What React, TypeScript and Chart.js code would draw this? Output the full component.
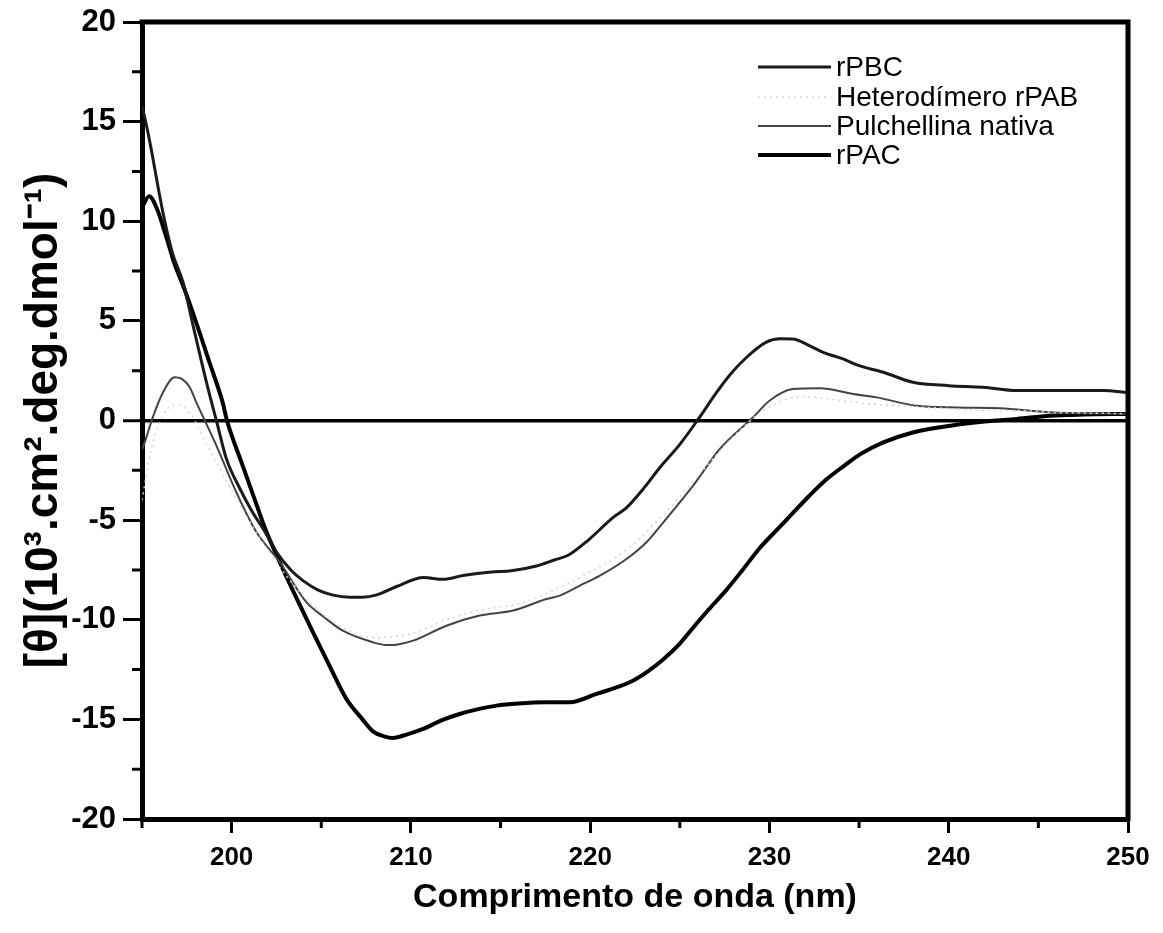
import React, { useEffect, useRef } from "react";
import { Chart, registerables } from "chart.js";

Chart.register(...registerables);

// ---- Data ----
const rpbcX = [195.0, 195.3, 195.6, 195.9, 196.2, 196.7, 197.3, 197.84, 198.6, 199.15, 199.7, 200.45, 201.1, 201.8, 202.5, 203.3, 204.0, 204.8, 205.6, 206.6, 207.3, 208.1, 209.2, 210.7, 211.8, 212.9, 214.5, 215.6, 217.0, 218.0, 218.8, 219.9, 221.3, 222.0, 222.9, 223.9, 225.0, 226.1, 227.05, 227.8, 228.7, 229.8, 230.6, 231.3, 232.25, 233.0, 234.1, 235.0, 236.35, 238.0, 240.0, 241.9, 243.8, 246.0, 248.6, 250.0];
const rpbcY = [15.8, 14.6, 13.2, 11.7, 10.3, 8.4, 6.9, 4.8, 1.9, 0.0, -1.9, -3.4, -4.5, -5.5, -6.6, -7.5, -8.05, -8.5, -8.75, -8.87, -8.87, -8.75, -8.33, -7.88, -7.97, -7.78, -7.6, -7.54, -7.3, -7.0, -6.75, -6.0, -4.85, -4.4, -3.5, -2.35, -1.2, 0.16, 1.41, 2.3, 3.15, 3.92, 4.1, 4.09, 3.75, 3.42, 3.09, 2.75, 2.42, 1.92, 1.75, 1.67, 1.5, 1.5, 1.5, 1.4];

const rpabX = [195.0, 195.5, 196.2, 197.0, 197.8, 198.5, 200.0, 202.0, 204.0, 206.0, 208.0, 210.0, 212.0, 214.0, 216.0, 218.0, 220.0, 222.0, 224.0, 226.0, 228.0, 230.0, 232.0, 234.0, 236.0, 238.0, 240.0, 242.0, 244.0, 246.0, 250.0];
const rpabY = [-4.0, -1.5, 0.3, 0.8, 0.2, -1.0, -3.5, -6.5, -8.8, -10.3, -10.9, -10.7, -10.0, -9.5, -9.2, -8.5, -7.6, -6.5, -4.8, -2.8, -0.8, 0.7, 1.2, 1.0, 0.8, 0.7, 0.6, 0.5, 0.5, 0.4, 0.35];

const nativaX = [195.0, 195.15, 195.6, 196.17, 196.82, 197.2, 197.66, 198.03, 198.5, 199.15, 200.26, 201.38, 202.68, 204.17, 205.2, 206.2, 207.88, 208.63, 209.19, 210.12, 211.98, 213.84, 215.7, 217.56, 218.3, 219.42, 220.54, 222.1, 223.14, 224.0, 225.74, 227.23, 229.09, 230.0, 231.3, 232.8, 234.67, 235.97, 238.2, 240.5, 242.86, 245.65, 250.0];
const nativaY = [-1.45, -1.1, 0.16, 1.41, 2.17, 2.1, 1.67, 0.91, 0.0, -1.26, -3.6, -5.6, -7.1, -9.12, -9.9, -10.55, -11.13, -11.27, -11.25, -11.05, -10.3, -9.79, -9.54, -8.96, -8.79, -8.29, -7.79, -6.9, -6.11, -5.2, -3.27, -1.43, 0.16, 0.99, 1.58, 1.62, 1.33, 1.16, 0.74, 0.65, 0.61, 0.41, 0.33];

const rpacX = [195.0, 195.4, 195.8, 196.36, 196.8, 197.28, 197.84, 198.77, 199.5, 199.74, 200.63, 201.3, 201.9, 202.68, 203.4, 204.54, 205.4, 206.4, 207.3, 207.88, 208.5, 209.0, 209.8, 210.68, 211.7, 212.72, 213.7, 214.77, 216.0, 217.56, 218.86, 220.35, 222.2, 223.2, 224.07, 225.0, 225.74, 226.6, 227.6, 228.5, 229.46, 230.4, 231.3, 232.2, 233.2, 234.2, 235.05, 236.35, 238.0, 240.1, 242.0, 243.8, 245.65, 247.5, 250.0];
const rpacY = [10.7, 11.25, 10.7, 9.2, 7.9, 6.8, 5.4, 2.9, 0.9, 0.0, -2.3, -4.0, -5.5, -7.1, -8.5, -10.63, -12.2, -13.97, -15.0, -15.6, -15.85, -15.93, -15.75, -15.48, -15.05, -14.73, -14.5, -14.31, -14.2, -14.14, -14.14, -13.72, -13.14, -12.6, -12.0, -11.2, -10.4, -9.5, -8.5, -7.5, -6.4, -5.5, -4.65, -3.8, -2.94, -2.25, -1.7, -1.1, -0.6, -0.26, -0.05, 0.08, 0.24, 0.3, 0.33];

const seriesLabels = ["rPBC", "Heterodímero rPAB", "Pulchellina nativa", "rPAC"];
const xMajorTicks = [200, 210, 220, 230, 240, 250];
const xMinorTicks = [195, 205, 215, 225, 235, 245];
const yMajorTicks = [-20, -15, -10, -5, 0, 5, 10, 15, 20];
const yMinorTicks = [-17.5, -12.5, -7.5, -2.5, 2.5, 7.5, 12.5, 17.5];

const xTitle = "Comprimento de onda (nm)";
const yTitle = "[θ](10³.cm².deg.dmol⁻¹)";

const FONT = "'Liberation Sans', Arial, Helvetica, sans-serif";

const toPoints = (xs: number[], ys: number[]) => xs.map((x, i) => ({ x, y: ys[i] }));

const framePlugin = {
  id: "frameLegend",
  afterDraw(chart: any) {
    const { ctx, chartArea, scales } = chart;
    const { left, right, top, bottom } = chartArea;
    ctx.save();
    ctx.strokeStyle = "#000";
    ctx.lineWidth = 5;
    ctx.beginPath();
    ctx.moveTo(left - 2.5, top);
    ctx.lineTo(right, top);
    ctx.lineTo(right, bottom + 2.5);
    ctx.stroke();
    // minor ticks
    ctx.lineWidth = 3;
    ctx.beginPath();
    xMinorTicks.forEach((v) => {
      const px = scales.x.getPixelForValue(v);
      ctx.moveTo(px, bottom);
      ctx.lineTo(px, bottom + 9);
    });
    yMinorTicks.forEach((v) => {
      const py = scales.y.getPixelForValue(v);
      ctx.moveTo(left, py);
      ctx.lineTo(left - 10, py);
    });
    ctx.stroke();
    // legend
    const rowsY = [67, 97, 126, 155];
    ctx.font = `28px ${FONT}`;
    ctx.textBaseline = "middle";
    ctx.fillStyle = "#000";
    chart.data.datasets.forEach((ds: any, i: number) => {
      const y = rowsY[i];
      ctx.save();
      ctx.strokeStyle = ds.borderColor;
      ctx.lineWidth = ds.borderWidth;
      ctx.setLineDash(ds.borderDash || []);
      ctx.beginPath();
      ctx.moveTo(758, y);
      ctx.lineTo(831, y);
      ctx.stroke();
      ctx.restore();
      ctx.fillText(ds.label, 836, y + 1);
    });
    ctx.restore();
  },
};

export default function App() {
  const canvasRef = useRef<HTMLCanvasElement | null>(null);

  useEffect(() => {
    if (!canvasRef.current) return;
    Chart.defaults.font.family = FONT;
    Chart.defaults.color = "#000";
    const chart = new Chart(canvasRef.current, {
      type: "line",
      data: {
        datasets: [
          {
            label: seriesLabels[0],
            data: toPoints(rpbcX, rpbcY),
            borderColor: "#1a1a1a",
            borderWidth: 3,
          },
          {
            label: seriesLabels[1],
            data: toPoints(rpabX, rpabY),
            borderColor: "#d6d6d6",
            borderWidth: 1.5,
            borderDash: [2, 4],
          },
          {
            label: seriesLabels[2],
            data: toPoints(nativaX, nativaY),
            borderColor: "#444",
            borderWidth: 2,
          },
          {
            label: seriesLabels[3],
            data: toPoints(rpacX, rpacY),
            borderColor: "#000",
            borderWidth: 4,
          },
        ] as any,
      },
      options: {
        animation: false,
        responsive: true,
        maintainAspectRatio: false,
        layout: { padding: { left: 0, right: 35, top: 22, bottom: 0 } },
        elements: {
          point: { radius: 0 },
          line: { cubicInterpolationMode: "monotone", fill: false },
        },
        plugins: {
          legend: { display: false },
          tooltip: { enabled: false },
        },
        scales: {
          x: {
            type: "linear",
            min: 195,
            max: 250,
            afterFit: (s: any) => {
              s.height = 114;
            },
            afterBuildTicks: (s: any) => {
              s.ticks = xMajorTicks.map((v) => ({ value: v }));
            },
            border: { display: true, color: "#000", width: 5 },
            grid: {
              drawOnChartArea: false,
              drawTicks: true,
              tickLength: 14,
              tickWidth: 3,
              tickColor: "#000",
            },
            ticks: {
              padding: 9,
              maxRotation: 0,
              autoSkip: false,
              font: { size: 26, weight: "bold" },
              color: "#000",
            },
            title: {
              display: true,
              text: xTitle,
              font: { size: 34, weight: "bold" },
              color: "#000",
              padding: { top: 0, bottom: 15 },
            },
          },
          y: {
            type: "linear",
            min: -20,
            max: 20,
            afterFit: (s: any) => {
              s.width = 142;
            },
            afterBuildTicks: (s: any) => {
              s.ticks = yMajorTicks.map((v) => ({ value: v }));
            },
            border: { display: true, color: "#000", width: 5 },
            grid: {
              drawOnChartArea: true,
              color: (c: any) => (c.tick && c.tick.value === 0 ? "#000" : "rgba(0,0,0,0)"),
              lineWidth: (c: any) => (c.tick && c.tick.value === 0 ? 3.5 : 1),
              drawTicks: true,
              tickLength: 19,
              tickWidth: 3,
              tickColor: "#000",
            },
            ticks: {
              padding: 7,
              autoSkip: false,
              font: { size: 31, weight: "bold", lineHeight: 0.9 },
              color: "#000",
            },
            title: {
              display: true,
              text: yTitle,
              font: { size: 46, weight: "bold" },
              color: "#000",
              padding: { top: 17, bottom: 0 },
            },
          },
        },
      },
      plugins: [framePlugin],
    });
    return () => chart.destroy();
  }, []);

  return (
    <div style={{ position: "fixed", left: 0, top: 0, width: 1163, height: 933, background: "#fff" }}>
      <canvas ref={canvasRef} />
    </div>
  );
}
